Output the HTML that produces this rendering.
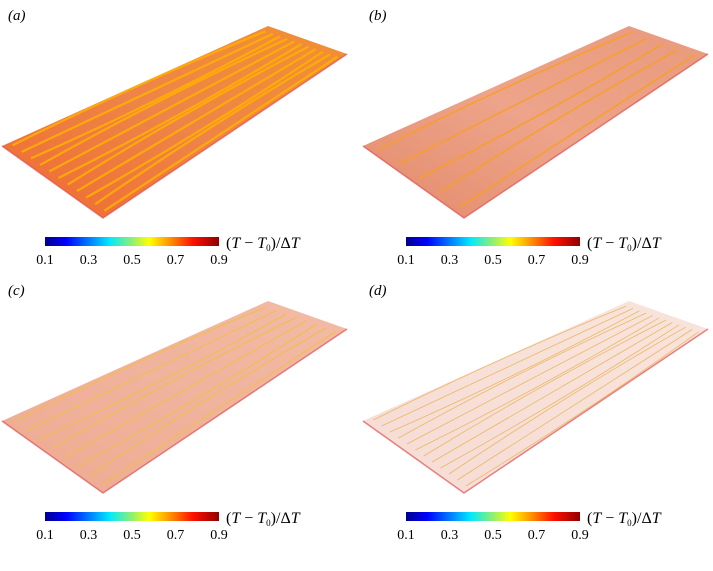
<!DOCTYPE html>
<html><head><meta charset="utf-8"><style>
body{margin:0;background:#fff;}
svg{display:block;font-family:"Liberation Serif",serif;}
</style></head><body>
<svg id="fig" width="713" height="571" viewBox="0 0 713 571">
<defs>
<linearGradient id="jet" x1="0" x2="1" y1="0" y2="0">
<stop offset="0" stop-color="#00008f"/><stop offset="0.12" stop-color="#0000ff"/>
<stop offset="0.37" stop-color="#00e8ff"/><stop offset="0.5" stop-color="#90f070"/>
<stop offset="0.6" stop-color="#ffff00"/><stop offset="0.72" stop-color="#ff9000"/>
<stop offset="0.85" stop-color="#ff1000"/><stop offset="1" stop-color="#900000"/>
</linearGradient>
<linearGradient id="ga" x1="0" y1="1" x2="1" y2="0"><stop offset="0" stop-color="#f06a30"/><stop offset="0.5" stop-color="#ee8448"/><stop offset="1" stop-color="#f29030"/></linearGradient>
<linearGradient id="gb" x1="0" y1="1" x2="1" y2="0"><stop offset="0" stop-color="#e48a6a"/><stop offset="0.5" stop-color="#eda48a"/><stop offset="1" stop-color="#e99a7c"/></linearGradient>
<linearGradient id="gc" x1="0" y1="1" x2="1" y2="0"><stop offset="0" stop-color="#eeaa92"/><stop offset="1" stop-color="#f2bba6"/></linearGradient>
<linearGradient id="gd" x1="0" y1="1" x2="1" y2="0"><stop offset="0" stop-color="#f6dcd4"/><stop offset="1" stop-color="#f8e4dc"/></linearGradient>
</defs>
<g id="panels"></g>
</svg>
<script>
const panelLabels = ["(a)", "(b)", "(c)", "(d)"];
const tickLabels = ["0.1", "0.3", "0.5", "0.7", "0.9"];
const panelFills = ["ga", "gb", "gc", "gd"];
const streakColors = ["#ffb000", "#f8a020", "#f0c040", "#e8b050"];
const streakCounts = [11, 5, 8, 12];
const streakWidths = [2.2, 1.6, 1.1, 0.8];
const NS = "http://www.w3.org/2000/svg";
const root = document.getElementById("panels");
function mk(t, a, p) { const e = document.createElementNS(NS, t); for (const k in a) e.setAttribute(k, a[k]); (p || root).appendChild(e); return e; }
const offs = [[0, 0], [361, 0], [0, 275], [361, 275]];
for (let i = 0; i < 4; i++) {
  const [ox, oy] = offs[i];
  const g = mk("g", {transform: `translate(${ox},${oy})`});
  
  
  const lab = mk("text", {x: 8, y: 20, "font-size": 15, "font-style": "italic"}, g);
  lab.textContent = panelLabels[i];
  
  
  const L = [2, 146], B = [103, 218], R = [347, 54], T = [268, 26];
  const pl = mk("polygon", {points: [L, B, R, T].map(p => p.join(",")).join(" "), fill: `url(#${panelFills[i]})`}, g);
  
  
  mk("polyline", {points: `${L} ${B} ${R}`, fill: "none", stroke: "#e05050", "stroke-width": 1.5, opacity: 0.7}, g);
  const n = streakCounts[i];
  for (let k = 0; k < n; k++) {
    const t = (k + 0.5) / n;
    const x1 = L[0] + (B[0] - L[0]) * t + 6, y1 = L[1] + (B[1] - L[1]) * t - 4;
    const x2 = T[0] + (R[0] - T[0]) * t - 6, y2 = T[1] + (R[1] - T[1]) * t + 4;
    const mx = (x1 + x2) / 2, my = (y1 + y2) / 2 + ((k % 3) - 1) * 6;
    const s = mk("path", {d: `M${x1},${y1} Q${mx},${my} ${x2},${y2}`, fill: "none", stroke: streakColors[i], "stroke-width": streakWidths[i], opacity: 0.85}, g);
    
    
  }
  const cb = mk("rect", {x: 45, y: 237, width: 174, height: 9, fill: "url(#jet)"}, g);
  
  
  tickLabels.forEach((tl, j) => {
    const tt = mk("text", {x: 45 + j * 43.5, y: 264, "font-size": 14, "text-anchor": "middle"}, g);
    tt.textContent = tl;
    
    
  });
  const ct = mk("text", {x: 226, y: 248, "font-size": 16}, g);
  ct.innerHTML = '(<tspan font-style="italic">T</tspan> − <tspan font-style="italic">T</tspan><tspan font-size="9" dy="3">0</tspan><tspan dy="-3">)/Δ</tspan><tspan font-style="italic">T</tspan>';
  
  
}
</script>
</body></html>
